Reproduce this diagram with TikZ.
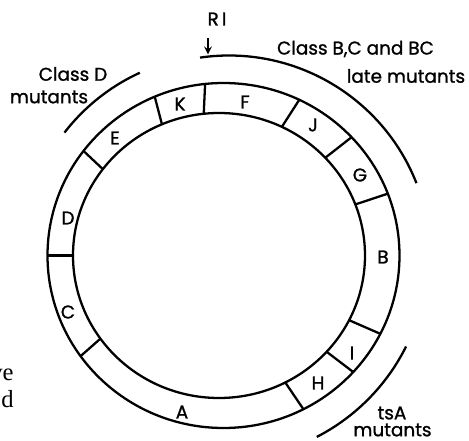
\documentclass[tikz,border=0pt]{standalone}
\usepackage{fontspec}
\setmainfont{Liberation Serif}
\newfontfamily\letfont[FakeBold=1.2]{Poppins}
\usetikzlibrary{calc}

\tikzset{
  ring/.style={line width=1.3pt},
  gene/.style={font=\letfont\fontsize{10.5}{12}\selectfont, inner sep=0pt},
  txt/.style={font=\letfont\fontsize{10.5}{12}\selectfont, inner sep=0pt},
  frag/.style={font=\fontsize{14}{16}\selectfont, inner sep=0pt, anchor=base east},
}

\begin{document}
\begin{tikzpicture}[scale=0.02]
	\useasboundingbox (-219,-185.5) rectangle (250,255.5);
	% inner and outer edge of the ring
	\coordinate (o) at (0,0);
	\coordinate (oc) at (4.5,0);
	\draw[ring] (o) ellipse (146 and 142.5);
	\draw[ring] (oc) ellipse (176 and 172.5);
	% boundaries between the genes
	\foreach \a in {96,113,142.7,180,215.7,-63,-42.5,-27,21,43.3,64.5}
		\draw[ring] (\a:146 and 142.5) -- ($(oc)+(\a:176 and 172.5)$);
	% gene letters
	\node[gene] (K) at (-39,151.5) {K};
	\node[gene] (F) at (26,153.5) {F};
	\node[gene] (J) at (94,130.5) {J};
	\node[gene] (G) at (141,80.5) {G};
	\node[gene] (B) at (164,-1.5) {B};
	\node[gene] (I) at (133,-97.5) {I};
	\node[gene] (H) at (99,-127.5) {H};
	\node[gene] (A) at (-37,-156.5) {A};
	\node[gene] (C) at (-151,-56.5) {C};
	\node[gene] (D) at (-151,37.5) {D};
	\node[gene] (E) at (-104,117.5) {E};
	% outer arcs for the mutant classes
	\draw[ring] ($(10,-1.5)+(98.25:201.5)$) arc[start angle=98.25, end angle=21.5, radius=201.5];
	\draw[ring] ($(oc)+(142.3:201)$) arc[start angle=142.3, end angle=114.6, radius=201];
	\draw[ring] ($(oc)+(-26.5:204)$) arc[start angle=-26.5, end angle=-62.8, radius=204];
	% origin of replication
	\coordinate (ritop) at (-11,217.5);
	\coordinate (ribot) at (-11,201);
	\draw[line width=1pt,-stealth] (ritop) -- (ribot);
	\node[txt] (ri) at (-2,236.5) {R\,I};
	% class labels
	\node[txt] (bc1) at (136.5,206.5) {Class B,C and BC};
	\node[txt] (bc2) at (187,179.5) {late mutants};
	\node[txt] (d1) at (-146,181.5) {Class D};
	\node[txt] (d2) at (-170,158.5) {mutants};
	\node[txt] (ts1) at (173,-157.5) {tsA};
	\node[txt] (ts2) at (173.5,-174.5) {mutants};
	% bits of the page text
	\node[frag] (ve) at (-205,-125.5) {ve};
	\node[frag] (dd) at (-205,-152.5) {d};
\end{tikzpicture}
\end{document}
